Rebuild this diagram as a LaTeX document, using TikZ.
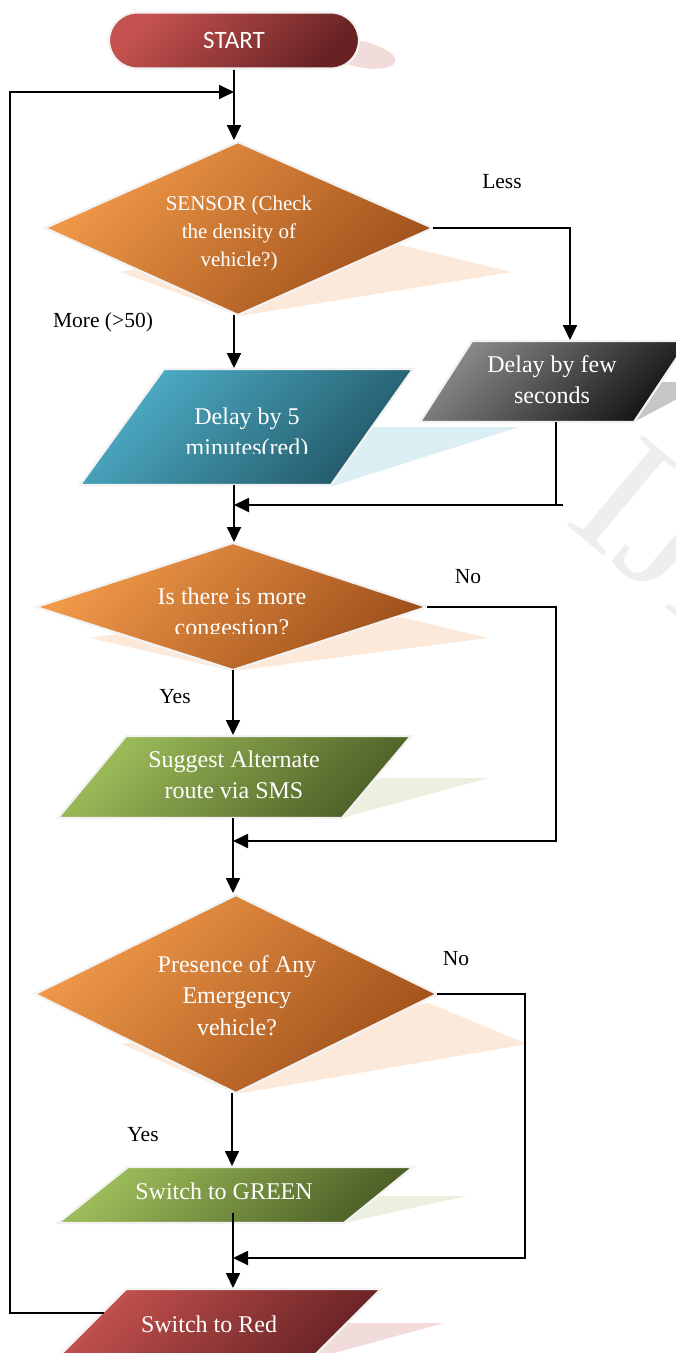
\documentclass[tikz,border=0pt]{standalone}
\usepackage{fontspec}
\setmainfont{Liberation Serif}
\newfontfamily\startfont{Carlito}
\usetikzlibrary{arrows.meta}
\definecolor{redL}{HTML}{C4524F}
\definecolor{redD}{HTML}{682224}
\definecolor{orL}{HTML}{F29A4A}
\definecolor{orD}{HTML}{A0511B}
\definecolor{bluL}{HTML}{4EAEC8}
\definecolor{bluD}{HTML}{225867}
\definecolor{gryL}{HTML}{8A8A8A}
\definecolor{gryD}{HTML}{141414}
\definecolor{grnL}{HTML}{9DBD5A}
\definecolor{grnD}{HTML}{4D6027}
\definecolor{shOr}{HTML}{FDE9D9}
\definecolor{shBl}{HTML}{DAEEF3}
\definecolor{shGr}{HTML}{EBF1DE}
\definecolor{shGy}{HTML}{C6C6C6}
\definecolor{shRd}{HTML}{F2DCDB}
\tikzset{
  conn/.style={line width=1.8pt, -{Triangle[length=15pt,width=14pt]}},
  plainline/.style={line width=1.8pt},
  boxtxt/.style={text=white, align=center, inner sep=0pt, anchor=base, font=\fontsize{24}{31}\selectfont},
  dtxt/.style={text=white, align=center, inner sep=0pt, anchor=base, font=\fontsize{21}{28}\selectfont},
  lbl/.style={text=black, inner sep=0pt, anchor=base, font=\fontsize{21.5}{26}\selectfont},
  glow/.style={draw=gray!10, line width=2.2pt, line join=miter},
  grad/.style 2 args={top color=#1, bottom color=#2, shading angle=45},
}
\begin{document}
\begin{tikzpicture}[x=1pt,y=-1pt]
\useasboundingbox (0,0) rectangle (676,1353);
\clip (0,0) rectangle (676,1353);
% watermark
\node[rotate=-40, text=gray!13, font=\fontsize{180}{180}\selectfont, anchor=base west, inner sep=0pt] (wm) at (562,521) {IJERT};
% corner coordinates
\coordinate (d1t) at (238,142); \coordinate (d1r) at (433,228);
\coordinate (d1b) at (238,315); \coordinate (d1l) at (45,228);
\coordinate (d2t) at (233,543); \coordinate (d2r) at (427,607);
\coordinate (d2b) at (233,670); \coordinate (d2l) at (36,607);
\coordinate (d3t) at (236,895); \coordinate (d3r) at (437,994);
\coordinate (d3b) at (236,1093); \coordinate (d3l) at (35,994);
% shadows
\fill[shRd, rotate around={-12:(360,54)}] (360,54) ellipse [x radius=36, y radius=13];
\fill[shOr] (120,272) -- (330,228) -- (512,272) -- (240,316) -- cycle;
\fill[shBl] (372,427) -- (519,427) -- (333,486) -- (300,470) -- cycle;
\fill[shGy] (634,422) -- (662,382) -- (690,382) -- (690,392) -- cycle;
\fill[shOr] (90,638) -- (330,600) -- (488,638) -- (233,671) -- cycle;
\fill[shGr] (381,778) -- (489,778) -- (342,818) -- (330,800) -- cycle;
\fill[shOr] (121,1044) -- (428,1003) -- (528,1044) -- (237,1094) -- cycle;
\fill[shGr] (381,1196) -- (467,1196) -- (344,1223) -- (330,1210) -- cycle;
\fill[shRd] (338,1323) -- (444,1323) -- (316,1358) -- (300,1358) -- cycle;
% shapes
\node[minimum width=250pt, minimum height=56pt, rounded corners=28pt, grad={redL}{redD}, glow, text=white, font=\startfont\fontsize{25}{28}\selectfont] (start) at (234,40.5) {START};
\path[grad={orL}{orD}, glow] (d1t) -- (d1r) -- (d1b) -- (d1l) -- cycle;
\path[grad={bluL}{bluD}, glow] (164,369) -- (413,369) -- (331,485) -- (80,485) -- cycle;
\path[grad={gryL}{gryD}, glow] (472,341) -- (688,341) -- (634,422) -- (420,422) -- cycle;
\path[grad={orL}{orD}, glow] (d2t) -- (d2r) -- (d2b) -- (d2l) -- cycle;
\path[grad={grnL}{grnD}, glow] (126,736) -- (411,736) -- (342,818) -- (58,818) -- cycle;
\path[grad={orL}{orD}, glow] (d3t) -- (d3r) -- (d3b) -- (d3l) -- cycle;
\path[grad={grnL}{grnD}, glow] (128,1167) -- (413,1167) -- (344,1223) -- (58,1223) -- cycle;
\path[grad={redL}{redD}, glow] (126,1289) -- (381,1289) -- (310,1360) -- (55,1360) -- cycle;
% texts (anchor base = baseline of the last line)
\node[dtxt] (t1) at (239,266) {SENSOR (Check\\the density of\\vehicle?)};
\begin{scope}
\clip (0,0) rectangle (676,453);
\node[boxtxt] (t2) at (247,455) {Delay by 5\\minutes(red)};
\end{scope}
\node[boxtxt] (t3) at (552,403) {Delay by few\\seconds};
\begin{scope}
\clip (0,0) rectangle (676,633);
\node[boxtxt] (t4) at (232,635) {Is there is more\\congestion?};
\end{scope}
\node[boxtxt] (t5) at (234,798) {Suggest Alternate\\route via SMS};
\node[boxtxt, font=\fontsize{24}{31.5}\selectfont] (t6) at (237,1035) {Presence of Any\\Emergency\\vehicle?};
\node[boxtxt] (t7) at (224,1199) {Switch to GREEN};
\node[boxtxt] (t8) at (209,1332) {Switch to Red};
% labels
\node[lbl] (lLess) at (502,188) {Less};
\node[lbl] (lMore) at (103,327) {More (>50)};
\node[lbl] (lNo1) at (468,583) {No};
\node[lbl] (lYes1) at (175,703) {Yes};
\node[lbl] (lNo2) at (456,965) {No};
\node[lbl] (lYes2) at (143,1141) {Yes};
% connector coordinates
\coordinate (jn0) at (234,92);
\coordinate (lx) at (10,92);
\coordinate (rloop) at (104,1313);
\coordinate (d1in) at (234,140);
\coordinate (d1out) at (234,315);
\coordinate (blt) at (234,368);
\coordinate (blb) at (234,485);
\coordinate (d2in) at (234,542);
\coordinate (gyt) at (570,340);
\coordinate (gyb) at (556,422);
\coordinate (gyc) at (556,505);
\coordinate (gye) at (563,505);
\coordinate (jn1) at (234,505);
\coordinate (rc2) at (556,841);
\coordinate (jn2) at (233,841);
\coordinate (g1t) at (233,735);
\coordinate (g1b) at (233,818);
\coordinate (d3in) at (233,893);
\coordinate (d3out) at (232,1093);
\coordinate (g2t) at (232,1166);
\coordinate (g2b) at (233,1213);
\coordinate (rdt) at (233,1288);
\coordinate (rc3) at (525,1258);
\coordinate (jn3) at (233,1258);
% connectors
\draw[conn] (start.south) -- (d1in);
\draw[conn] (rloop) -| (lx) -- (jn0);
\draw[conn] (d1r) -| (gyt);
\draw[conn] (d1out) -- (blt);
\draw[conn] (blb) -- (d2in);
\draw[plainline] (gyb) -- (gyc) -- (gye);
\draw[conn] (gye) -- (jn1);
\draw[conn] (d2r) -| (rc2) -- (jn2);
\draw[conn] (d2b) -- (g1t);
\draw[conn] (g1b) -- (d3in);
\draw[conn] (d3r) -| (rc3) -- (jn3);
\draw[conn] (d3out) -- (g2t);
\draw[conn] (g2b) -- (rdt);
\end{tikzpicture}
\end{document}
